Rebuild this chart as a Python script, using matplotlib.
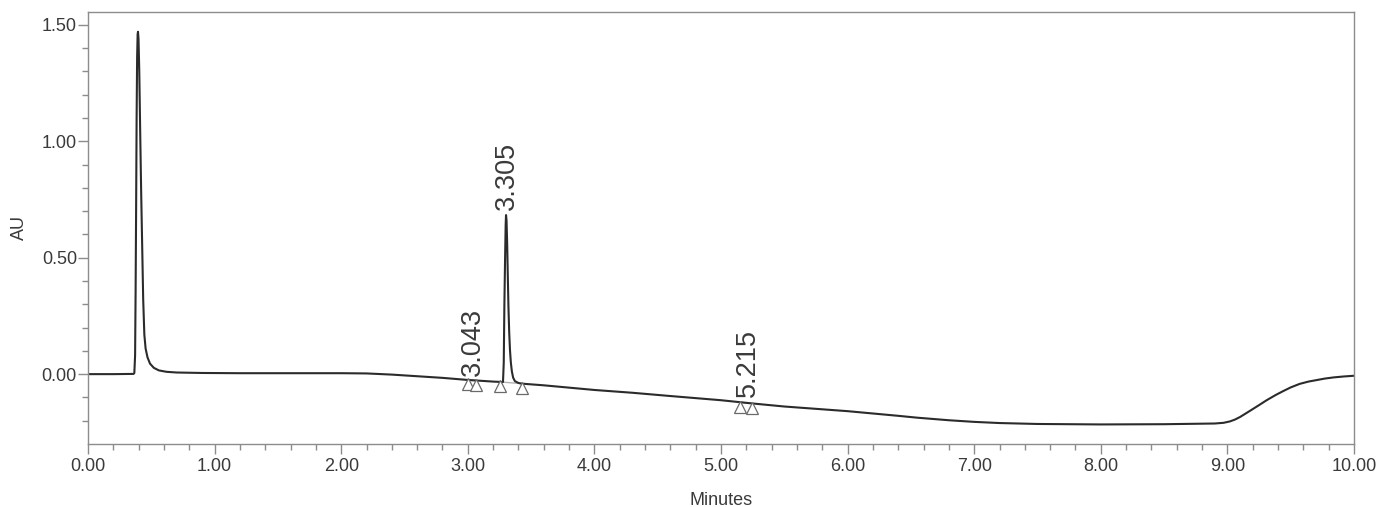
import matplotlib
matplotlib.use("Agg")
import matplotlib.pyplot as plt
import matplotlib.transforms as mtransforms
import numpy as np

plt.rcParams['font.family'] = ['Liberation Sans', 'DejaVu Sans']

# ---- data ----
time_min = [0.00, 0.20, 0.36, 0.366, 0.372, 0.376, 0.380, 0.384, 0.388, 0.392, 0.395,
            0.399, 0.405, 0.412, 0.420, 0.428, 0.436, 0.445, 0.455, 0.470, 0.490,
            0.520, 0.560, 0.620, 0.700, 0.90, 1.20, 1.60, 2.00, 2.20, 2.40, 2.60,
            2.80, 3.00, 3.20, 3.278, 3.284, 3.289, 3.294, 3.299, 3.302, 3.306,
            3.311, 3.316, 3.321, 3.327, 3.333, 3.340, 3.348, 3.358, 3.372, 3.40,
            3.43, 3.60, 3.80, 4.00, 4.30, 4.60, 5.00, 5.23, 5.50, 6.00, 6.40,
            6.55, 6.80, 7.00, 7.20, 7.50, 8.00, 8.50, 8.90, 8.97, 9.02, 9.06,
            9.10, 9.18, 9.25, 9.31, 9.38, 9.44, 9.50, 9.57, 9.64, 9.70, 9.77,
            9.84, 9.92, 10.00]
absorbance = [0.000, 0.000, 0.001, 0.005, 0.080, 0.350, 0.700, 1.100, 1.360, 1.460, 1.470,
              1.440, 1.300, 1.050, 0.780, 0.550, 0.320, 0.170, 0.110, 0.072, 0.045,
              0.027, 0.016, 0.010, 0.007, 0.005, 0.004, 0.004, 0.004, 0.003, -0.002, -0.009,
              -0.016, -0.025, -0.032, -0.034, 0.050, 0.300, 0.480, 0.640, 0.683, 0.660,
              0.560, 0.420, 0.290, 0.180, 0.105, 0.050, 0.012, -0.015, -0.030, -0.038,
              -0.041, -0.048, -0.058, -0.068, -0.080, -0.094, -0.112, -0.125, -0.139, -0.159, -0.179,
              -0.187, -0.198, -0.205, -0.210, -0.214, -0.216, -0.215, -0.212, -0.209, -0.203, -0.195,
              -0.184, -0.157, -0.133, -0.112, -0.090, -0.073, -0.057, -0.042, -0.032, -0.026, -0.019,
              -0.014, -0.010, -0.007]

peak_labels = ["3.043", "3.305", "5.215"]
peak_times = [3.043, 3.305, 5.215]
peak_heights = [-0.028, 0.683, -0.121]

# integration start/end markers (pairs)
marker_pairs = [(3.004, 3.063), (3.254, 3.431), (5.150, 5.242)]

x_ticks = [0, 1, 2, 3, 4, 5, 6, 7, 8, 9, 10]
y_ticks = [0.0, 0.5, 1.0, 1.5]

# ---- figure ----
fig = plt.figure(figsize=(13.82, 5.07), dpi=100)
ax = fig.add_axes([88/1382, 1-444/507, (1354-88)/1382, (444-12)/507])

trace_color = '#2b2b2b'
axis_color = '#8c8c8c'
text_color = '#3a3a3a'

ax.plot(time_min, absorbance, color=trace_color, lw=1.5, solid_joinstyle='round')

# baselines and markers
down = mtransforms.offset_copy(ax.transData, fig=fig, x=0, y=-4.5, units='dots')
for (t0, t1) in marker_pairs:
    y0 = np.interp(t0, time_min, absorbance)
    y1 = np.interp(t1, time_min, absorbance)
    ax.plot([t0, t1], [y0, y1], color='#b0b0b0', lw=1.0, zorder=1)
    ax.plot([t0, t1], [y0, y1], linestyle='none', marker='^', markersize=8,
            markerfacecolor='white', markeredgecolor='#6a6a6a', markeredgewidth=0.9,
            transform=down, zorder=3)

# peak labels
up = mtransforms.offset_copy(ax.transData, fig=fig, x=0, y=5, units='dots')
for lab, t, h in zip(peak_labels, peak_times, peak_heights):
    ax.text(t, h, lab, rotation=90, ha='center', va='bottom', fontsize=19.5,
            color=text_color, transform=up)

ax.set_xlim(0, 10)
ax.set_ylim(-0.30, 1.555)
ax.set_xticks(x_ticks)
ax.set_xticklabels([f"{v:.2f}" for v in x_ticks])
ax.set_yticks(y_ticks)
ax.set_yticklabels([f"{v:.2f}" for v in y_ticks])
ax.set_xticks(np.arange(0, 10.01, 0.2), minor=True)
ax.set_yticks(np.arange(-0.2, 1.55, 0.1), minor=True)

for s in ax.spines.values():
    s.set_color(axis_color)
    s.set_linewidth(1.0)

ax.tick_params(axis='both', which='major', length=7, width=1.0, color=axis_color,
               labelcolor=text_color, labelsize=13, direction='out')
ax.tick_params(axis='both', which='minor', length=4.5, width=1.0, color=axis_color,
               direction='out')
ax.tick_params(axis='x', which='major', pad=3)
ax.tick_params(axis='y', which='major', pad=1)

ax.set_xlabel("Minutes", fontsize=13, color=text_color, labelpad=12)
ax.set_ylabel("AU", fontsize=13, color=text_color, labelpad=10)

fig.savefig("out.png", dpi=100)
